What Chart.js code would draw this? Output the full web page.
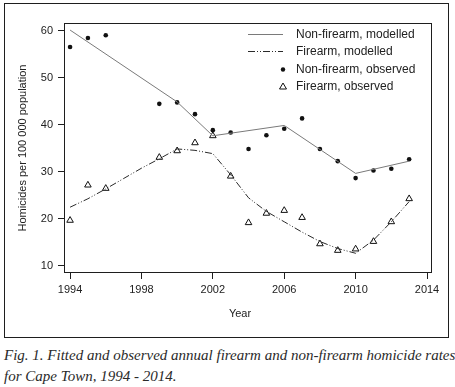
<!DOCTYPE html>
<html>
<head>
<meta charset="utf-8">
<script src="https://cdn.jsdelivr.net/npm/chart.js@4"></script>
<style>
  body { margin: 0; background: #fff; width: 455px; height: 387px; position: relative; overflow: hidden; }
  #frame { position: absolute; left: 4px; top: 3px; width: 443px; height: 333px; border: 1.5px solid #1e1e1e; }
  #chart { position: absolute; left: 5px; top: 4px; }
  #caption {
    position: absolute; left: 4px; top: 345px; width: 450px;
    font-family: "Liberation Serif", "DejaVu Serif", serif; font-style: italic;
    font-size: 15px; line-height: 21px; color: #2a2a2a; white-space: nowrap;
  }
</style>
</head>
<body>
<div id="frame"></div>
<canvas id="chart" width="444" height="334"></canvas>
<div id="caption">Fig. 1. Fitted and observed annual firearm and non-firearm homicide rates<br>for Cape Town, 1994 - 2014.</div>
<script>
const observedYears = [1994, 1995, 1996, 1999, 2000, 2001, 2002, 2003, 2004, 2005, 2006, 2007, 2008, 2009, 2010, 2011, 2012, 2013];
const nonFirearmObserved = [56.6, 58.5, 59.1, 44.5, 44.8, 42.3, 38.9, 38.4, 34.9, 37.8, 39.2, 41.4, 34.9, 32.3, 28.7, 30.3, 30.7, 32.7];
const firearmObserved = [19.7, 27.2, 26.5, 33.1, 34.5, 36.2, 37.7, 29.1, 19.2, 21.2, 21.8, 20.3, 14.7, 13.3, 13.6, 15.2, 19.4, 24.3];

const nonFirearmModelYears = [1994, 2000, 2002, 2006, 2010, 2013];
const nonFirearmModelled = [60.2, 44.9, 37.7, 39.9, 29.7, 32.3];

const firearmModelYears = [1994, 1995, 1996, 1997, 1998, 1999, 2000, 2001, 2002, 2003, 2004, 2005, 2006, 2007, 2008, 2009, 2010, 2011, 2012, 2013];
const firearmModelled = [22.5, 24.3, 26.4, 28.6, 30.8, 32.8, 34.9, 34.6, 33.9, 29.4, 24.5, 21.6, 19.4, 17.2, 15.2, 13.7, 12.7, 15.5, 19.4, 23.7];

const yTicks = [10, 20, 30, 40, 50, 60];
const xTicks = [1994, 1998, 2002, 2006, 2010, 2014];

const legendLabels = ['Non-firearm, modelled', 'Firearm, modelled', 'Non-firearm, observed', 'Firearm, observed'];
const xAxisTitle = 'Year';

const INK = '#1e1e1e';
const FONT = '"Liberation Sans", Arial, sans-serif';
const FIREARM_DASH = [7, 2, 1, 2, 1, 2];

function toPoints(xs, ys) {
  return xs.map((x, i) => ({ x: x, y: ys[i] }));
}

// full box round the plot area, like the original
const plotBox = {
  id: 'plotBox',
  afterDatasetsDraw(chart) {
    const { ctx, chartArea: a } = chart;
    ctx.save();
    ctx.strokeStyle = INK;
    ctx.lineWidth = 1;
    ctx.strokeRect(a.left + 0.5, a.top + 0.5, a.right - a.left - 1, a.bottom - a.top - 1);
    ctx.restore();
  }
};

// "Year" sits a little left of the plot centre in the original
const xTitle = {
  id: 'xTitle',
  afterDraw(chart) {
    const { ctx, chartArea: a } = chart;
    ctx.save();
    ctx.font = '11px ' + FONT;
    ctx.fillStyle = '#222';
    ctx.textAlign = 'center';
    ctx.textBaseline = 'middle';
    ctx.fillText(xAxisTitle, (a.left + a.right) / 2 - 8, a.bottom + 41);
    ctx.restore();
  }
};

const innerLegend = {
  id: 'innerLegend',
  afterDraw(chart) {
    const { ctx, chartArea: a } = chart;
    const x0 = a.left + 184;
    const x1 = a.left + 219;
    const textX = a.left + 232;
    ctx.save();
    ctx.font = '12px ' + FONT;
    ctx.textBaseline = 'middle';
    ctx.fillStyle = '#222';
    legendLabels.forEach((label, i) => {
      const y = Math.round(a.top + 10.5 + i * 17.6) + 0.5;
      ctx.save();
      if (i === 0 || i === 1) {
        ctx.beginPath();
        ctx.strokeStyle = i === 0 ? '#7a7a7a' : '#2a2a2a';
        ctx.lineWidth = 1;
        ctx.setLineDash(i === 1 ? FIREARM_DASH : []);
        ctx.moveTo(x0, y);
        ctx.lineTo(x1, y);
        ctx.stroke();
      } else if (i === 2) {
        ctx.beginPath();
        ctx.fillStyle = '#111';
        ctx.arc(x1, y, 2.2, 0, Math.PI * 2);
        ctx.fill();
      } else {
        ctx.beginPath();
        ctx.strokeStyle = '#111';
        ctx.lineWidth = 1;
        ctx.moveTo(x1 - 3.5, y + 2.5);
        ctx.lineTo(x1 + 3.5, y + 2.5);
        ctx.lineTo(x1, y - 3.5);
        ctx.closePath();
        ctx.stroke();
      }
      ctx.restore();
      ctx.fillText(label, textX, y);
    });
    ctx.restore();
  }
};

const ctx = document.getElementById('chart').getContext('2d');

new Chart(ctx, {
  type: 'line',
  data: {
    datasets: [
      {
        label: legendLabels[0],
        data: toPoints(nonFirearmModelYears, nonFirearmModelled),
        borderColor: '#7a7a7a',
        borderWidth: 1,
        pointRadius: 0,
        tension: 0,
      },
      {
        label: legendLabels[1],
        data: toPoints(firearmModelYears, firearmModelled),
        borderColor: '#2a2a2a',
        borderWidth: 1,
        borderDash: FIREARM_DASH,
        pointRadius: 0,
        tension: 0,
      },
      {
        label: legendLabels[2],
        data: toPoints(observedYears, nonFirearmObserved),
        showLine: false,
        pointStyle: 'circle',
        pointRadius: 2.3,
        backgroundColor: '#111',
        borderColor: '#111',
        borderWidth: 0,
      },
      {
        label: legendLabels[3],
        data: toPoints(observedYears, firearmObserved),
        showLine: false,
        pointStyle: 'triangle',
        pointRadius: 3.8,
        backgroundColor: 'rgba(255,255,255,0)',
        borderColor: '#111',
        borderWidth: 1,
      },
    ],
  },
  options: {
    responsive: false,
    devicePixelRatio: 1,
    animation: false,
    layout: { padding: { top: 19, right: 17, left: 0, bottom: 0 } },
    plugins: {
      legend: { display: false },
      tooltip: { enabled: false },
    },
    scales: {
      x: {
        type: 'linear',
        min: 1993.66,
        max: 2014.28,
        afterFit: (scale) => { scale.height = 65; },
        afterBuildTicks: (scale) => { scale.ticks = xTicks.map((v) => ({ value: v })); },
        ticks: {
          color: '#222',
          padding: 4,
          maxRotation: 0,
          font: { family: FONT, size: 11 },
          callback: (v) => String(v),
        },
        grid: { drawOnChartArea: false, drawTicks: true, tickLength: 6, color: INK },
        border: { display: false },
        title: { display: false },
      },
      y: {
        min: 8.5,
        max: 61.7,
        afterFit: (scale) => { scale.width = 59; },
        afterBuildTicks: (scale) => { scale.ticks = yTicks.map((v) => ({ value: v })); },
        ticks: {
          color: '#222',
          padding: 5,
          font: { family: FONT, size: 11 },
        },
        grid: { drawOnChartArea: false, drawTicks: true, tickLength: 6, color: INK },
        border: { display: false },
        title: {
          display: true,
          text: 'Homicides per 100 000 population',
          color: '#222',
          font: { family: FONT, size: 11 },
          padding: { top: 11, bottom: 0 },
        },
      },
    },
  },
  plugins: [plotBox, xTitle, innerLegend],
});
</script>
</body>
</html>
